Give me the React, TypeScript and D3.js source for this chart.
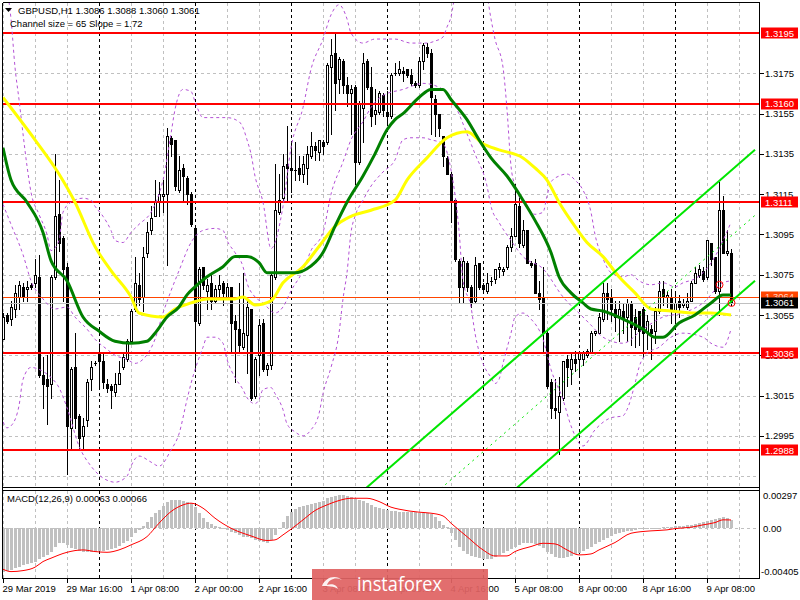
import React from 'react';
import * as d3 from 'd3';

// GBPUSD H1 candles, 29 Mar 2019 00:00 .. 9 Apr 2019 14:00 (one bar per hour)
const opens = [
  1.3043, 1.3055, 1.3053, 1.3058, 1.3064, 1.3069, 1.3068, 1.3070, 1.3071, 1.3074,
  1.3025, 1.3023, 1.3021, 1.3074, 1.3105, 1.3093, 1.3079, 1.2999, 1.3029, 1.3005,
  1.2995, 1.3003, 1.3023, 1.3031, 1.3036, 1.3032, 1.3021, 1.3020, 1.3017, 1.3021,
  1.3029, 1.3033, 1.3042, 1.3058, 1.3070, 1.3064, 1.3086, 1.3097, 1.3104, 1.3111,
  1.3114, 1.3115, 1.3143, 1.3142, 1.3117, 1.3128, 1.3123, 1.3115, 1.3098, 1.3051,
  1.3079, 1.3067, 1.3071, 1.3062, 1.3068, 1.3071, 1.3064, 1.3069, 1.3052, 1.3048,
  1.3039, 1.3045, 1.3058, 1.3015, 1.3035, 1.3051, 1.3028, 1.3030, 1.3074, 1.3106,
  1.3113, 1.3130, 1.3128, 1.3127, 1.3128, 1.3125, 1.3128, 1.3134, 1.3139, 1.3136,
  1.3141, 1.3141, 1.3178, 1.3185, 1.3172, 1.3181, 1.3169, 1.3165, 1.3168, 1.3131,
  1.3158, 1.3181, 1.3168, 1.3155, 1.3156, 1.3164, 1.3156, 1.3154, 1.3175, 1.3175,
  1.3176, 1.3177, 1.3174, 1.3170, 1.3169, 1.3181, 1.3188, 1.3185, 1.3162, 1.3155,
  1.3144, 1.3133, 1.3125, 1.3112, 1.3082, 1.3069, 1.3081, 1.3069, 1.3062, 1.3081,
  1.3070, 1.3067, 1.3072, 1.3073, 1.3078, 1.3077, 1.3079, 1.3089, 1.3094, 1.3109,
  1.3090, 1.3097, 1.3081, 1.3081, 1.3066, 1.3064, 1.3046, 1.3022, 1.3009, 1.3007,
  1.3014, 1.3033, 1.3028, 1.3033, 1.3033, 1.3033, 1.3035, 1.3036, 1.3046, 1.3046,
  1.3053, 1.3066, 1.3064, 1.3058, 1.3054, 1.3057, 1.3054, 1.3061, 1.3054, 1.3057,
  1.3058, 1.3047, 1.3048, 1.3047, 1.3057, 1.3068, 1.3064, 1.3064, 1.3057, 1.3062,
  1.3060, 1.3059, 1.3062, 1.3071, 1.3075, 1.3077, 1.3074, 1.3091, 1.3084, 1.3067,
  1.3107, 1.3086, 1.3086,
];
const highs = [
  1.3056, 1.3056, 1.3062, 1.3070, 1.3072, 1.3071, 1.3072, 1.3071, 1.3083, 1.3085,
  1.3034, 1.3035, 1.3075, 1.3135, 1.3122, 1.3094, 1.3081, 1.3029, 1.3046, 1.3006,
  1.3004, 1.3023, 1.3032, 1.3032, 1.3041, 1.3036, 1.3023, 1.3021, 1.3026, 1.3032,
  1.3036, 1.3043, 1.3058, 1.3084, 1.3076, 1.3089, 1.3101, 1.3109, 1.3122, 1.3121,
  1.3122, 1.3148, 1.3144, 1.3142, 1.3134, 1.3130, 1.3124, 1.3116, 1.3099, 1.3079,
  1.3079, 1.3073, 1.3075, 1.3070, 1.3075, 1.3072, 1.3071, 1.3069, 1.3055, 1.3071,
  1.3076, 1.3062, 1.3058, 1.3034, 1.3053, 1.3053, 1.3031, 1.3076, 1.3130, 1.3125,
  1.3135, 1.3149, 1.3141, 1.3141, 1.3134, 1.3134, 1.3139, 1.3146, 1.3141, 1.3142,
  1.3142, 1.3180, 1.3192, 1.3195, 1.3183, 1.3182, 1.3173, 1.3169, 1.3169, 1.3161,
  1.3185, 1.3182, 1.3178, 1.3167, 1.3166, 1.3165, 1.3166, 1.3175, 1.3180, 1.3181,
  1.3178, 1.3177, 1.3177, 1.3171, 1.3183, 1.3190, 1.3190, 1.3187, 1.3164, 1.3155,
  1.3144, 1.3134, 1.3126, 1.3113, 1.3083, 1.3084, 1.3082, 1.3070, 1.3084, 1.3081,
  1.3071, 1.3076, 1.3074, 1.3078, 1.3081, 1.3079, 1.3090, 1.3098, 1.3120, 1.3114,
  1.3102, 1.3097, 1.3082, 1.3083, 1.3072, 1.3079, 1.3047, 1.3023, 1.3023, 1.3024,
  1.3032, 1.3035, 1.3036, 1.3037, 1.3037, 1.3037, 1.3038, 1.3047, 1.3047, 1.3056,
  1.3071, 1.3071, 1.3068, 1.3062, 1.3062, 1.3061, 1.3063, 1.3062, 1.3058, 1.3057,
  1.3059, 1.3055, 1.3050, 1.3059, 1.3072, 1.3072, 1.3067, 1.3068, 1.3067, 1.3065,
  1.3063, 1.3066, 1.3072, 1.3079, 1.3080, 1.3079, 1.3092, 1.3091, 1.3084, 1.3121,
  1.3114, 1.3097, 1.3088,
];
const lows = [
  1.3043, 1.3051, 1.3050, 1.3054, 1.3058, 1.3062, 1.3062, 1.3068, 1.3069, 1.3024,
  1.3009, 1.3001, 1.3014, 1.3073, 1.3087, 1.3062, 1.2976, 1.2988, 1.2999, 1.2989,
  1.2988, 1.3000, 1.3018, 1.3030, 1.3019, 1.3019, 1.3017, 1.3009, 1.3015, 1.3021,
  1.3028, 1.3032, 1.3041, 1.3057, 1.3060, 1.3057, 1.3084, 1.3095, 1.3104, 1.3104,
  1.3106, 1.3080, 1.3134, 1.3117, 1.3116, 1.3111, 1.3110, 1.3099, 1.3028, 1.3050,
  1.3068, 1.3058, 1.3058, 1.3061, 1.3063, 1.3060, 1.3064, 1.3036, 1.3022, 1.3036,
  1.3038, 1.3026, 1.3013, 1.3014, 1.3025, 1.3027, 1.3025, 1.3028, 1.3073, 1.3105,
  1.3112, 1.3112, 1.3116, 1.3122, 1.3122, 1.3121, 1.3120, 1.3133, 1.3132, 1.3132,
  1.3135, 1.3140, 1.3145, 1.3157, 1.3165, 1.3165, 1.3159, 1.3145, 1.3120, 1.3130,
  1.3141, 1.3167, 1.3149, 1.3150, 1.3155, 1.3154, 1.3151, 1.3153, 1.3174, 1.3174,
  1.3171, 1.3173, 1.3169, 1.3168, 1.3168, 1.3177, 1.3183, 1.3145, 1.3144, 1.3144,
  1.3129, 1.3125, 1.3101, 1.3082, 1.3061, 1.3061, 1.3067, 1.3059, 1.3061, 1.3068,
  1.3067, 1.3066, 1.3070, 1.3071, 1.3074, 1.3075, 1.3078, 1.3087, 1.3094, 1.3089,
  1.3089, 1.3081, 1.3079, 1.3066, 1.3058, 1.3037, 1.3019, 1.3004, 1.3004, 1.2986,
  1.3013, 1.3020, 1.3021, 1.3027, 1.3024, 1.3030, 1.3034, 1.3036, 1.3045, 1.3046,
  1.3052, 1.3053, 1.3052, 1.3047, 1.3042, 1.3046, 1.3042, 1.3040, 1.3039, 1.3040,
  1.3034, 1.3038, 1.3033, 1.3041, 1.3056, 1.3060, 1.3059, 1.3051, 1.3051, 1.3054,
  1.3059, 1.3058, 1.3062, 1.3071, 1.3074, 1.3072, 1.3073, 1.3080, 1.3066, 1.3055,
  1.3086, 1.3085, 1.3060,
];
const closes = [
  1.3054, 1.3052, 1.3059, 1.3066, 1.3070, 1.3064, 1.3069, 1.3069, 1.3075, 1.3025,
  1.3021, 1.3020, 1.3074, 1.3104, 1.3091, 1.3078, 1.3000, 1.3028, 1.3004, 1.2994,
  1.3000, 1.3022, 1.3029, 1.3031, 1.3032, 1.3022, 1.3019, 1.3018, 1.3021, 1.3026,
  1.3034, 1.3042, 1.3057, 1.3071, 1.3063, 1.3084, 1.3096, 1.3103, 1.3111, 1.3115,
  1.3115, 1.3144, 1.3140, 1.3119, 1.3127, 1.3124, 1.3115, 1.3100, 1.3052, 1.3078,
  1.3070, 1.3070, 1.3062, 1.3068, 1.3070, 1.3066, 1.3069, 1.3051, 1.3048, 1.3040,
  1.3046, 1.3059, 1.3014, 1.3033, 1.3050, 1.3028, 1.3030, 1.3075, 1.3107, 1.3112,
  1.3129, 1.3128, 1.3127, 1.3127, 1.3125, 1.3130, 1.3135, 1.3139, 1.3137, 1.3142,
  1.3139, 1.3179, 1.3184, 1.3170, 1.3182, 1.3169, 1.3165, 1.3167, 1.3131, 1.3160,
  1.3180, 1.3168, 1.3154, 1.3157, 1.3165, 1.3157, 1.3154, 1.3174, 1.3175, 1.3177,
  1.3175, 1.3174, 1.3170, 1.3169, 1.3181, 1.3189, 1.3185, 1.3163, 1.3155, 1.3148,
  1.3134, 1.3125, 1.3111, 1.3083, 1.3069, 1.3082, 1.3069, 1.3061, 1.3080, 1.3069,
  1.3068, 1.3071, 1.3072, 1.3078, 1.3079, 1.3078, 1.3089, 1.3094, 1.3110, 1.3091,
  1.3097, 1.3081, 1.3080, 1.3066, 1.3063, 1.3046, 1.3020, 1.3009, 1.3008, 1.3015,
  1.3032, 1.3029, 1.3033, 1.3031, 1.3036, 1.3036, 1.3037, 1.3046, 1.3047, 1.3054,
  1.3066, 1.3063, 1.3058, 1.3054, 1.3058, 1.3053, 1.3061, 1.3049, 1.3048, 1.3047,
  1.3046, 1.3052, 1.3046, 1.3057, 1.3067, 1.3064, 1.3065, 1.3057, 1.3061, 1.3059,
  1.3061, 1.3062, 1.3071, 1.3076, 1.3078, 1.3073, 1.3092, 1.3083, 1.3067, 1.3107,
  1.3086, 1.3087, 1.3061,
];

// moving averages (bar index, price)
const yellowBars = [0, 8, 14, 18, 23, 27, 32, 34, 40, 43, 47, 51, 58, 60, 63, 67, 70, 75, 79, 83, 87, 92, 98, 101, 106, 111, 116, 120, 124, 130, 133, 136, 139, 143, 146, 150, 154, 158, 162, 167, 173, 177, 182];
const yellowVals = [1.3163, 1.3142, 1.3125, 1.3111, 1.3089, 1.3077, 1.3064, 1.3056, 1.3054, 1.3058, 1.3061, 1.3063, 1.3063, 1.3064, 1.3060, 1.3062, 1.3071, 1.3079, 1.3089, 1.3099, 1.3104, 1.3107, 1.3112, 1.3122, 1.3133, 1.3143, 1.3146, 1.3140, 1.3137, 1.3133, 1.3128, 1.3122, 1.3111, 1.3099, 1.3091, 1.3084, 1.3074, 1.3066, 1.3058, 1.3057, 1.3056, 1.3056, 1.3055];

const greenBars = [0, 2, 6, 10, 12, 16, 20, 24, 28, 32, 36, 38, 41, 44, 46, 48, 51, 55, 58, 61, 64, 66, 70, 73, 76, 80, 83, 86, 90, 93, 96, 98, 100, 104, 107, 110, 112, 116, 119, 122, 126, 130, 133, 137, 139, 142, 145, 147, 150, 155, 160, 163, 165, 169, 173, 177, 180, 182];
const greenVals = [1.3138, 1.3122, 1.3111, 1.3096, 1.3082, 1.3072, 1.3054, 1.3047, 1.3042, 1.3041, 1.3042, 1.3046, 1.3054, 1.3059, 1.3065, 1.3069, 1.3074, 1.3079, 1.3084, 1.3084, 1.3081, 1.3076, 1.3076, 1.3076, 1.3078, 1.3086, 1.3099, 1.3111, 1.3124, 1.3135, 1.3147, 1.3152, 1.3155, 1.3163, 1.3167, 1.3167, 1.3162, 1.3152, 1.3142, 1.3133, 1.3124, 1.3112, 1.3102, 1.3086, 1.3074, 1.3066, 1.3061, 1.3058, 1.3057, 1.3053, 1.3048, 1.3044, 1.3044, 1.3051, 1.3055, 1.3061, 1.3065, 1.3065];

// bands (purple dashed): upper, middle, lower
const bandUpBars = [0, 2, 3, 4, 5, 6, 7, 9, 11, 12, 14, 15, 17, 20, 22, 23, 25, 27, 28, 30, 32, 34, 37, 39, 40, 42, 43, 45, 47, 48, 50, 53, 56, 59, 60, 61, 62, 63, 65, 67, 70, 72, 75, 77, 80, 82, 84, 86, 87, 90, 93, 98, 102, 106, 108, 110, 111, 112, 113, 115, 119, 121, 122, 123, 125, 126, 127, 128, 130, 132, 133, 135, 136, 137, 139, 141, 143, 145, 147, 148, 150, 152, 155, 157, 159, 162, 165, 168, 170, 173, 175, 178, 180, 182];
const bandUpVals = [1.3225, 1.3202, 1.3178, 1.3162, 1.3145, 1.3129, 1.3116, 1.3105, 1.3095, 1.3087, 1.3092, 1.3106, 1.3111, 1.3113, 1.3112, 1.3109, 1.3104, 1.3097, 1.3092, 1.3091, 1.3096, 1.3100, 1.3106, 1.3115, 1.3122, 1.3145, 1.3157, 1.3167, 1.3166, 1.3161, 1.3153, 1.3153, 1.3153, 1.3151, 1.3148, 1.3142, 1.3135, 1.3124, 1.3111, 1.3088, 1.3109, 1.3138, 1.3158, 1.3177, 1.3192, 1.3204, 1.3209, 1.3202, 1.3195, 1.3190, 1.3192, 1.3192, 1.3190, 1.3190, 1.3191, 1.3193, 1.3198, 1.3203, 1.3214, 1.3226, 1.3226, 1.3214, 1.3202, 1.3192, 1.3178, 1.3157, 1.3129, 1.3119, 1.3111, 1.3106, 1.3105, 1.3106, 1.3114, 1.3121, 1.3124, 1.3125, 1.3122, 1.3117, 1.3106, 1.3095, 1.3083, 1.3076, 1.3074, 1.3075, 1.3072, 1.3070, 1.3071, 1.3069, 1.3071, 1.3073, 1.3076, 1.3084, 1.3092, 1.3101];

const bandMidBars = [0, 2, 5, 7, 10, 13, 16, 18, 21, 23, 26, 28, 31, 33, 35, 38, 40, 42, 44, 47, 50, 53, 55, 56, 58, 60, 61, 63, 65, 66, 68, 70, 72, 75, 77, 80, 82, 85, 87, 90, 92, 95, 100, 105, 110, 113, 116, 118, 121, 122, 124, 127, 130, 135, 140, 145, 147, 150, 155, 160, 165, 170, 175, 180, 182];
const bandMidVals = [1.3110, 1.3100, 1.3085, 1.3072, 1.3063, 1.3058, 1.3059, 1.3054, 1.3048, 1.3043, 1.3038, 1.3035, 1.3033, 1.3031, 1.3033, 1.3043, 1.3056, 1.3067, 1.3077, 1.3091, 1.3097, 1.3098, 1.3097, 1.3092, 1.3086, 1.3079, 1.3071, 1.3064, 1.3061, 1.3059, 1.3056, 1.3059, 1.3067, 1.3077, 1.3087, 1.3096, 1.3115, 1.3131, 1.3142, 1.3151, 1.3158, 1.3164, 1.3167, 1.3170, 1.3167, 1.3159, 1.3145, 1.3135, 1.3119, 1.3109, 1.3101, 1.3092, 1.3084, 1.3078, 1.3064, 1.3054, 1.3050, 1.3044, 1.3041, 1.3048, 1.3054, 1.3056, 1.3061, 1.3071, 1.3072];

const bandLowBars = [0, 1, 2, 4, 5, 7, 10, 12, 14, 16, 19, 22, 26, 28, 31, 32, 34, 37, 39, 42, 44, 46, 47, 50, 51, 53, 55, 56, 58, 60, 61, 63, 64, 65, 67, 68, 70, 71, 73, 75, 77, 79, 80, 82, 84, 85, 86, 87, 88, 90, 92, 95, 98, 100, 102, 105, 107, 110, 112, 114, 115, 117, 118, 120, 122, 123, 124, 125, 127, 128, 130, 132, 135, 137, 140, 142, 145, 148, 152, 155, 156, 158, 159, 161, 164, 167, 170, 175, 177, 180, 182];
const bandLowVals = [1.3002, 1.2999, 1.3000, 1.3010, 1.3023, 1.3029, 1.3027, 1.3024, 1.3019, 1.3009, 1.2990, 1.2980, 1.2973, 1.2972, 1.2975, 1.2980, 1.2985, 1.2982, 1.2980, 1.2988, 1.2996, 1.3013, 1.3021, 1.3039, 1.3044, 1.3044, 1.3041, 1.3033, 1.3024, 1.3018, 1.3014, 1.3011, 1.3013, 1.3018, 1.3019, 1.3016, 1.3008, 1.3001, 1.2997, 1.2995, 1.2998, 1.3006, 1.3016, 1.3029, 1.3046, 1.3063, 1.3076, 1.3096, 1.3104, 1.3112, 1.3119, 1.3126, 1.3132, 1.3142, 1.3143, 1.3143, 1.3142, 1.3140, 1.3127, 1.3097, 1.3072, 1.3059, 1.3046, 1.3031, 1.3024, 1.3021, 1.3023, 1.3031, 1.3046, 1.3054, 1.3056, 1.3053, 1.3043, 1.3028, 1.3013, 1.3000, 1.2990, 1.2998, 1.3004, 1.3005, 1.3008, 1.3021, 1.3029, 1.3036, 1.3039, 1.3044, 1.3046, 1.3044, 1.3041, 1.3039, 1.3048];

// equidistant channel (two anchor bars)
const channelBars = [80, 188];
const channelUpper = [1.29505, 1.3137];
const channelMiddle = [1.29180, 1.31045];
const channelLower = [1.28855, 1.3072];

const levels = [1.3195, 1.3160, 1.3111, 1.3036, 1.2988];
const gridPrices = [1.2975, 1.2995, 1.3015, 1.3035, 1.3055, 1.3075, 1.3095, 1.3115, 1.3135, 1.3155, 1.3175, 1.3195];
const axisPrices = [1.2995, 1.3015, 1.3035, 1.3055, 1.3075, 1.3095, 1.3115, 1.3135, 1.3155, 1.3175];
const askPrice = 1.3064;
const bidPrice = 1.3061;
const markerBars = [179, 182];
const markerPrices = [1.3070, 1.3061];

const timeLabels = ['29 Mar 2019', '29 Mar 16:00', '1 Apr 08:00', '2 Apr 00:00', '2 Apr 16:00', '3 Apr 08:00', '4 Apr 00:00', '4 Apr 16:00', '5 Apr 08:00', '8 Apr 00:00', '8 Apr 16:00', '9 Apr 08:00'];
const timeLabelBars = [0, 16, 32, 48, 64, 80, 96, 112, 128, 144, 160, 176];
const daySeparatorBars = [24, 48, 72, 96, 120, 144, 168];

// MACD(12,26,9): main histogram per bar, signal line points
const macdMain = [
  -0.00346, -0.00340, -0.00333, -0.00319, -0.00306, -0.00293, -0.00285, -0.00274, -0.00266, -0.00247,
  -0.00231, -0.00213, -0.00186, -0.00146, -0.00120, -0.00114, -0.00133, -0.00154, -0.00168, -0.00178,
  -0.00186, -0.00189, -0.00189, -0.00186, -0.00181, -0.00178, -0.00173, -0.00165, -0.00154, -0.00138,
  -0.00120, -0.00101, -0.00072, -0.00040, -0.00013, 0.00019, 0.00053, 0.00088, 0.00120, 0.00146,
  0.00178, 0.00210, 0.00226, 0.00226, 0.00226, 0.00221, 0.00210, 0.00200, 0.00173, 0.00120,
  0.00080, 0.00053, 0.00035, 0.00019, 0.00008, -0.00003, -0.00013, -0.00027, -0.00040, -0.00053,
  -0.00067, -0.00072, -0.00080, -0.00093, -0.00101, -0.00112, -0.00120, -0.00093, -0.00053, -0.00008,
  0.00053, 0.00098, 0.00133, 0.00154, 0.00168, 0.00178, 0.00186, 0.00194, 0.00200, 0.00210,
  0.00221, 0.00239, 0.00253, 0.00261, 0.00266, 0.00266, 0.00261, 0.00247, 0.00237, 0.00226,
  0.00215, 0.00200, 0.00189, 0.00173, 0.00160, 0.00152, 0.00146, 0.00141, 0.00136, 0.00133,
  0.00133, 0.00133, 0.00130, 0.00128, 0.00125, 0.00122, 0.00120, 0.00112, 0.00093, 0.00061,
  0.00027, 0.00008, -0.00040, -0.00093, -0.00146, -0.00178, -0.00205, -0.00221, -0.00231, -0.00239,
  -0.00245, -0.00247, -0.00247, -0.00231, -0.00213, -0.00194, -0.00178, -0.00165, -0.00146, -0.00133,
  -0.00120, -0.00114, -0.00114, -0.00125, -0.00138, -0.00160, -0.00186, -0.00205, -0.00226, -0.00239,
  -0.00234, -0.00226, -0.00221, -0.00205, -0.00194, -0.00178, -0.00165, -0.00146, -0.00125, -0.00106,
  -0.00093, -0.00077, -0.00061, -0.00048, -0.00035, -0.00027, -0.00021, -0.00019, -0.00013, -0.00008,
  -0.00008, -0.00005, -0.00005, 0.00000, 0.00005, 0.00008, 0.00011, 0.00013, 0.00016, 0.00019,
  0.00021, 0.00024, 0.00027, 0.00032, 0.00040, 0.00048, 0.00059, 0.00067, 0.00072, 0.00080,
  0.00088, 0.00085, 0.00063,
];
const signalBars = [0, 2, 5, 8, 10, 12, 16, 20, 23, 26, 29, 32, 36, 39, 42, 45, 47, 50, 53, 57, 62, 66, 68, 70, 72, 75, 78, 81, 84, 87, 91, 94, 97, 99, 104, 107, 110, 112, 116, 120, 123, 126, 128, 132, 135, 138, 141, 144, 147, 149, 153, 157, 162, 166, 168, 172, 175, 178, 180, 182];
const signalVals = [-0.00327, -0.00346, -0.00338, -0.00311, -0.00266, -0.00239, -0.00192, -0.00173, -0.00186, -0.00192, -0.00173, -0.00133, -0.00067, 0.00040, 0.00133, 0.00186, 0.00200, 0.00160, 0.00080, 0.00000, -0.00061, -0.00098, -0.00093, -0.00053, -0.00008, 0.00067, 0.00141, 0.00186, 0.00221, 0.00239, 0.00239, 0.00213, 0.00168, 0.00152, 0.00128, 0.00120, 0.00098, 0.00040, -0.00067, -0.00173, -0.00221, -0.00221, -0.00186, -0.00146, -0.00120, -0.00125, -0.00173, -0.00213, -0.00205, -0.00173, -0.00114, -0.00040, -0.00021, -0.00013, -0.00003, 0.00008, 0.00027, 0.00045, 0.00067, 0.00066];

const FONT = '"Liberation Sans", Arial, sans-serif';

const App: React.FC = () => {
  const W = 800;
  const H = 600;
  const left = 2.5;
  const right = 759.5;
  const top = 2.5;
  const paneBottom = 487.5;
  const macdTop = 490.5;
  const macdBottom = 578.5;

  const xs = d3.scaleLinear().domain([0, 182]).range([3, 731]);
  const ys = d3.scaleLinear().domain([1.2988, 1.3195]).range([450, 33]);
  const ym = d3.scaleLinear().domain([-0.00405, 0.00297]).range([579, 491]);

  const pathOf = (bars: number[], vals: number[], yScale = ys, curve: d3.CurveFactory = d3.curveMonotoneX) =>
    d3.line<number>()
      .x((_, k) => xs(bars[k]))
      .y((v) => yScale(v))
      .curve(curve)(vals) || '';

  const fmt = d3.format('.4f');
  const vGridBars = d3.range(0, 189, 8).filter((b) => !daySeparatorBars.includes(b));

  return (
    <div style={{ position: 'absolute', left: 0, top: 0, width: W, height: H, background: '#fff' }}>
      <svg width={W} height={H} viewBox={`0 0 ${W} ${H}`} style={{ display: 'block' }}>
        <defs>
          <clipPath id="pane">
            <rect x={3} y={3} width={756} height={484} />
          </clipPath>
          <clipPath id="macd">
            <rect x={3} y={491} width={756} height={87} />
          </clipPath>
        </defs>
        <rect x={0} y={0} width={W} height={H} fill="#ffffff" />

        {/* grid */}
        <g shapeRendering="crispEdges">
          {vGridBars.map((b) => (
            <g key={`vg${b}`}>
              <line x1={xs(b) + 0.5} x2={xs(b) + 0.5} y1={top} y2={paneBottom} stroke="#c0c0c0" strokeDasharray="3,3" />
              <line x1={xs(b) + 0.5} x2={xs(b) + 0.5} y1={macdTop} y2={macdBottom} stroke="#c0c0c0" strokeDasharray="3,3" />
            </g>
          ))}
          {gridPrices.map((p) => (
            <line key={`hg${p}`} x1={left} x2={right} y1={Math.round(ys(p)) + 0.5} y2={Math.round(ys(p)) + 0.5} stroke="#c0c0c0" strokeDasharray="3,3" />
          ))}
          {daySeparatorBars.map((b) => (
            <g key={`ds${b}`}>
              <line x1={xs(b) + 0.5} x2={xs(b) + 0.5} y1={top} y2={paneBottom} stroke="#000" strokeDasharray="3,3" />
              <line x1={xs(b) + 0.5} x2={xs(b) + 0.5} y1={macdTop} y2={macdBottom} stroke="#000" strokeDasharray="3,3" />
            </g>
          ))}
          <line x1={left} x2={right} y1={Math.round(ym(0)) + 0.5} y2={Math.round(ym(0)) + 0.5} stroke="#c0c0c0" strokeDasharray="3,3" />
        </g>

        {/* candles */}
        <g clipPath="url(#pane)" shapeRendering="crispEdges">
          {closes.map((c, i) => {
            const o = opens[i];
            const cx = Math.round(xs(i));
            const yTop = Math.round(ys(Math.max(o, c)));
            const yBot = Math.round(ys(Math.min(o, c)));
            const bull = c > o;
            return (
              <g key={`c${i}`}>
                <line x1={cx + 0.5} x2={cx + 0.5} y1={Math.round(ys(highs[i]))} y2={Math.round(ys(lows[i])) + 1} stroke="#000" />
                {bull ? (
                  <rect x={cx - 0.5} y={yTop + 0.5} width={2} height={Math.max(yBot - yTop, 1)} fill="#fff" stroke="#000" />
                ) : (
                  <rect x={cx - 1} y={yTop} width={3} height={Math.max(yBot - yTop + 1, 1)} fill="#000" />
                )}
              </g>
            );
          })}
        </g>

        {/* objects and indicators */}
        <g clipPath="url(#pane)">
          <line x1={left} x2={right} y1={Math.round(ys(askPrice)) + 0.5} y2={Math.round(ys(askPrice)) + 0.5} stroke="#ff4500" strokeWidth={1} />
          <line x1={left} x2={right} y1={Math.round(ys(bidPrice)) + 0.5} y2={Math.round(ys(bidPrice)) + 0.5} stroke="#c0c0c0" strokeWidth={1} />
          {levels.map((p) => (
            <line key={`lv${p}`} x1={left} x2={right} y1={Math.round(ys(p))} y2={Math.round(ys(p))} stroke="#ff0000" strokeWidth={2} />
          ))}
          <path d={pathOf(bandUpBars, bandUpVals)} fill="none" stroke="#b452d6" strokeWidth={1} strokeDasharray="3,3" />
          <path d={pathOf(bandMidBars, bandMidVals)} fill="none" stroke="#b452d6" strokeWidth={1} strokeDasharray="3,3" />
          <path d={pathOf(bandLowBars, bandLowVals)} fill="none" stroke="#b452d6" strokeWidth={1} strokeDasharray="3,3" />
          <path d={pathOf(yellowBars, yellowVals)} fill="none" stroke="#ffff00" strokeWidth={3} strokeLinejoin="round" />
          <path d={pathOf(greenBars, greenVals)} fill="none" stroke="#008000" strokeWidth={3} strokeLinejoin="round" />
          <path d={pathOf(channelBars, channelUpper, ys, d3.curveLinear)} fill="none" stroke="#00e600" strokeWidth={2} />
          <path d={pathOf(channelBars, channelLower, ys, d3.curveLinear)} fill="none" stroke="#00e600" strokeWidth={2} />
          <path d={pathOf(channelBars, channelMiddle, ys, d3.curveLinear)} fill="none" stroke="#00e600" strokeWidth={1} strokeDasharray="2,4" />
          {markerBars.map((b, k) => (
            <circle key={`mk${b}`} cx={xs(b) + 0.5} cy={ys(markerPrices[k])} r={3.5} fill="none" stroke="#ff0000" strokeWidth={1} />
          ))}
        </g>

        {/* MACD */}
        <g clipPath="url(#macd)" shapeRendering="crispEdges">
          {macdMain.map((v, i) => {
            const y0 = Math.round(ym(0));
            const y1 = Math.round(ym(v));
            return (
              <rect key={`h${i}`} x={Math.round(xs(i)) - 1} y={Math.min(y0, y1)} width={3} height={Math.max(Math.abs(y1 - y0), 1)} fill="#c0c0c0" />
            );
          })}
        </g>
        <path d={pathOf(signalBars, signalVals, ym)} fill="none" stroke="#ff0000" strokeWidth={1} clipPath="url(#macd)" />

        {/* frames */}
        <g shapeRendering="crispEdges" stroke="#000" strokeWidth={1}>
          <line x1={left} x2={right} y1={top} y2={top} />
          <line x1={left} x2={left} y1={top} y2={macdBottom} />
          <line x1={right} x2={right} y1={top} y2={macdBottom} />
          <line x1={left} x2={right} y1={paneBottom} y2={paneBottom} />
          <line x1={left} x2={right} y1={macdTop} y2={macdTop} />
          <line x1={left} x2={right} y1={macdBottom} y2={macdBottom} />
          {axisPrices.map((p) => (
            <line key={`tk${p}`} x1={right} x2={right + 4} y1={Math.round(ys(p)) + 0.5} y2={Math.round(ys(p)) + 0.5} />
          ))}
          {timeLabelBars.map((b) => (
            <line key={`tt${b}`} x1={xs(b) + 0.5} x2={xs(b) + 0.5} y1={macdBottom} y2={macdBottom + 4} />
          ))}
        </g>

        {/* price axis labels */}
        <g fontFamily={FONT} fontSize={9.5} fill="#000">
          {axisPrices.map((p) => (
            <text key={`al${p}`} x={765} y={ys(p) + 3.5}>{fmt(p)}</text>
          ))}
        </g>
        <g fontFamily={FONT} fontSize={9.5}>
          {levels.map((p) => (
            <g key={`ll${p}`}>
              <rect x={761} y={Math.round(ys(p)) - 5.5} width={37} height={11} fill="#ff0000" />
              <text x={765} y={ys(p) + 3.5} fill="#fff">{fmt(p)}</text>
            </g>
          ))}
          <rect x={761} y={Math.round(ys(askPrice)) - 5.5} width={37} height={11} fill="#ff4500" />
          <text x={765} y={ys(askPrice) + 3.5} fill="#ffd0c0">{fmt(askPrice)}</text>
          <rect x={761} y={Math.round(ys(bidPrice)) - 5.5} width={37} height={11} fill="#000" />
          <text x={765} y={ys(bidPrice) + 3.5} fill="#fff">{fmt(bidPrice)}</text>
        </g>

        {/* MACD axis labels */}
        <g fontFamily={FONT} fontSize={9.5} fill="#000">
          <text x={763} y={499}>0.00297</text>
          <text x={763} y={ym(0) + 3.5}>0.00</text>
          <text x={761} y={575}>-0.00405</text>
          <text x={7} y={502}>MACD(12,26,9) 0.00063 0.00066</text>
        </g>

        {/* time axis labels */}
        <g fontFamily={FONT} fontSize={9.5} fill="#000">
          {timeLabels.map((t, k) => (
            <text key={`tl${k}`} x={xs(timeLabelBars[k]) - 0.5} y={592}>{t}</text>
          ))}
        </g>

        {/* header */}
        <path d="M5,8 L12,8 L8.5,12 Z" fill="#000" />
        <g fontFamily={FONT} fontSize={9.5} fill="#000">
          <text x={18} y={14}>GBPUSD,H1  1.3086 1.3088 1.3060 1.3061</text>
          <text x={10} y={27}>Channel size = 65 Slope = 1.72</text>
        </g>

        {/* watermark */}
        <g>
          <rect x={312} y={569} width={176} height={31} fill="#e06363" opacity={0.93} />
          <path d="M322,586 c3,-9 14,-12 20,-6 c-6,-3 -13,-1 -15,5 c5,-2 10,0 11,4 c-4,-3 -10,-3 -16,-3 z" fill="#fff" opacity={0.9} />
          <text x={357} y={591} fontFamily='"Open Sans", "Liberation Sans", sans-serif' fontSize={20} fill="#fff" textLength={85} lengthAdjust="spacingAndGlyphs">instaforex</text>
        </g>
      </svg>
    </div>
  );
};

export default App;
